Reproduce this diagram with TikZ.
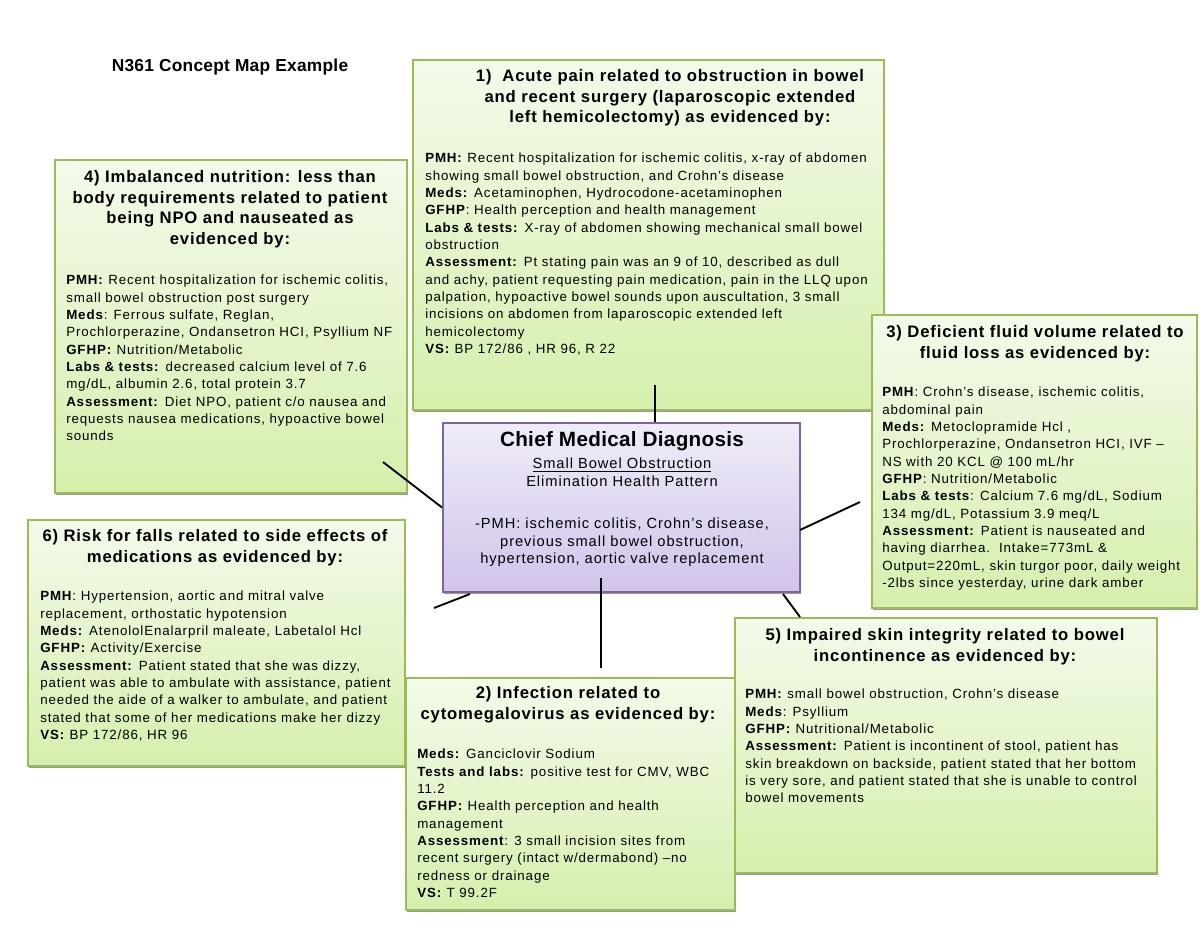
\documentclass[tikz,border=0pt]{standalone}
\usepackage{fontspec}
\setmainfont[LetterSpace=6.5]{Liberation Sans}
\newfontfamily\headfont[LetterSpace=5]{Liberation Sans}
\newfontfamily\titlefont[LetterSpace=1.5]{Liberation Sans}
\usetikzlibrary{positioning,fit,shadows}
\definecolor{dxline}{RGB}{155,187,89}
\definecolor{dxtop}{RGB}{243,250,234}
\definecolor{dxbot}{RGB}{214,239,172}
\definecolor{cmdline}{RGB}{128,100,162}
\definecolor{cmdtop}{RGB}{240,236,248}
\definecolor{cmdbot}{RGB}{208,196,234}
\tikzset{
  dxbox/.style={draw=dxline,line width=1.5pt,top color=dxtop,bottom color=dxbot,inner sep=0pt,
    drop shadow={shadow xshift=0.8pt,shadow yshift=-1.8pt,fill=black!40,opacity=1}},
  cmdbox/.style={dxbox,draw=cmdline,top color=cmdtop,bottom color=cmdbot},
  head/.style={align=center,inner sep=0pt,anchor=north,font=\headfont\fontsize{12.5}{15.6}\selectfont\bfseries},
  body/.style={align=left,inner sep=0pt,anchor=north west,font=\fontsize{10}{13}\selectfont},
  link/.style={line width=1.4pt}
}
\begin{document}
\begin{tikzpicture}[x=0.75pt,y=-0.75pt]
\useasboundingbox (0,0) rectangle (1200,927);
\node[head,font=\titlefont\fontsize{13}{15}\selectfont\bfseries] (title) at (230,59) {N361 Concept Map Example};

\node[dxbox,fit={(413,60)(884,410)}] (d1) {};
\node[head] (h1) at (670,69) {1)\ \ Acute pain related to obstruction in bowel\\ and recent surgery (laparoscopic extended\\ left hemicolectomy) as evidenced by:};
\node[body] (b1) at (425,153) {\textbf{PMH:} Recent hospitalization for ischemic colitis, x-ray of abdomen\\
showing small bowel obstruction, and Crohn's disease\\
\textbf{Meds:} Acetaminophen, Hydrocodone-acetaminophen\\
\textbf{GFHP}: Health perception and health management\\
\textbf{Labs \& tests:} X-ray of abdomen showing mechanical small bowel\\
obstruction\\
\textbf{Assessment:} Pt stating pain was an 9 of 10, described as dull\\
and achy, patient requesting pain medication, pain in the LLQ upon\\
palpation, hypoactive bowel sounds upon auscultation, 3 small\\
incisions on abdomen from laparoscopic extended left\\
hemicolectomy\\
\textbf{VS:} BP 172/86 , HR 96, R 22};

\node[dxbox,fit={(55,160)(407,493)}] (d4) {};
\node[head] (h4) at (230,170) {4) Imbalanced nutrition: less than\\ body requirements related to patient\\ being NPO and nauseated as\\ evidenced by:};
\node[body] (b4) at (66,275) {\textbf{PMH:} Recent hospitalization for ischemic colitis,\\
small bowel obstruction post surgery\\
\textbf{Meds}: Ferrous sulfate, Reglan,\\
Prochlorperazine, Ondansetron HCI, Psyllium NF\\
\textbf{GFHP:} Nutrition/Metabolic\\
\textbf{Labs \& tests:} decreased calcium level of 7.6\\
mg/dL, albumin 2.6, total protein 3.7\\
\textbf{Assessment:} Diet NPO, patient c/o nausea and\\
requests nausea medications, hypoactive bowel\\
sounds};

\node[dxbox,fit={(872,315)(1197,608)}] (d3) {};
\node[head] (h3) at (1035,325) {3) Deficient fluid volume related to\\ fluid loss as evidenced by:};
\node[body] (b3) at (882,387) {\textbf{PMH}: Crohn's disease, ischemic colitis,\\
abdominal pain\\
\textbf{Meds:} Metoclopramide Hcl ,\\
Prochlorperazine, Ondansetron HCI, IVF --\\
NS with 20 KCL @ 100 mL/hr\\
\textbf{GFHP}: Nutrition/Metabolic\\
\textbf{Labs \& tests}: Calcium 7.6 mg/dL, Sodium\\
134 mg/dL, Potassium 3.9 meq/L\\
\textbf{Assessment:} Patient is nauseated and\\
having diarrhea.\ \ Intake=773mL \&\\
Output=220mL, skin turgor poor, daily weight\\
-2lbs since yesterday, urine dark amber};

\node[dxbox,fit={(28,520)(405,766)}] (d6) {};
\node[head] (h6) at (215,529) {6) Risk for falls related to side effects of\\ medications as evidenced by:};
\node[body] (b6) at (40,591) {\textbf{PMH}: Hypertension, aortic and mitral valve\\
replacement, orthostatic hypotension\\
\textbf{Meds:} AtenololEnalarpril maleate, Labetalol Hcl\\
\textbf{GFHP:} Activity/Exercise\\
\textbf{Assessment:} Patient stated that she was dizzy,\\
patient was able to ambulate with assistance, patient\\
needed the aide of a walker to ambulate, and patient\\
stated that some of her medications make her dizzy\\
\textbf{VS:} BP 172/86, HR 96};

\node[dxbox,fit={(406,678)(735,910)}] (d2) {};
\node[head] (h2) at (568,686) {2) Infection related to\\ cytomegalovirus as evidenced by:};
\node[body] (b2) at (417,749) {\textbf{Meds:} Ganciclovir Sodium\\
\textbf{Tests and labs:} positive test for CMV, WBC\\
11.2\\
\textbf{GFHP:} Health perception and health\\
management\\
\textbf{Assessment}: 3 small incision sites from\\
recent surgery (intact w/dermabond) --no\\
redness or drainage\\
\textbf{VS:} T 99.2F};

\node[dxbox,fit={(735,618)(1157,873)}] (d5) {};
\node[head] (h5) at (945,628) {5) Impaired skin integrity related to bowel\\ incontinence as evidenced by:};
\node[body] (b5) at (745,689) {\textbf{PMH:} small bowel obstruction, Crohn's disease\\
\textbf{Meds}: Psyllium\\
\textbf{GFHP:} Nutritional/Metabolic\\
\textbf{Assessment:} Patient is incontinent of stool, patient has\\
skin breakdown on backside, patient stated that her bottom\\
is very sore, and patient stated that she is unable to control\\
bowel movements};

\node[cmdbox,fit={(443,423)(800,592)}] (cmd) {};
\node[head,font=\titlefont\fontsize{15.5}{18}\selectfont\bfseries] (cmdtitle) at (622,431) {Chief Medical Diagnosis};
\node[head,font=\fontsize{11}{13.2}\selectfont\mdseries] (cmdtext) at (622,458) {\underline{Small Bowel Obstruction}\\
Elimination Health Pattern\\[18.5pt]
-PMH: ischemic colitis, Crohn's disease,\\
previous small bowel obstruction,\\
hypertension, aortic valve replacement};

\coordinate (k1) at (655,385);
\coordinate (k4) at (383,462);
\coordinate (k3) at (860,502);  \coordinate (m3) at (800,530);
\coordinate (k6) at (434,608);  \coordinate (m6) at (470,594);
\coordinate (k2) at (601,668);  \coordinate (m2) at (601,578);
\coordinate (k5) at (800,617);  \coordinate (m5) at (783,594);
\draw[link] (k1) -- (k1 |- cmd.north);
\draw[link] (k4) -- (cmd.west);
\draw[link] (k3) -- (m3);
\draw[link] (k6) -- (m6);
\draw[link] (m2) -- (k2);
\draw[link] (m5) -- (k5);
\end{tikzpicture}
\end{document}
